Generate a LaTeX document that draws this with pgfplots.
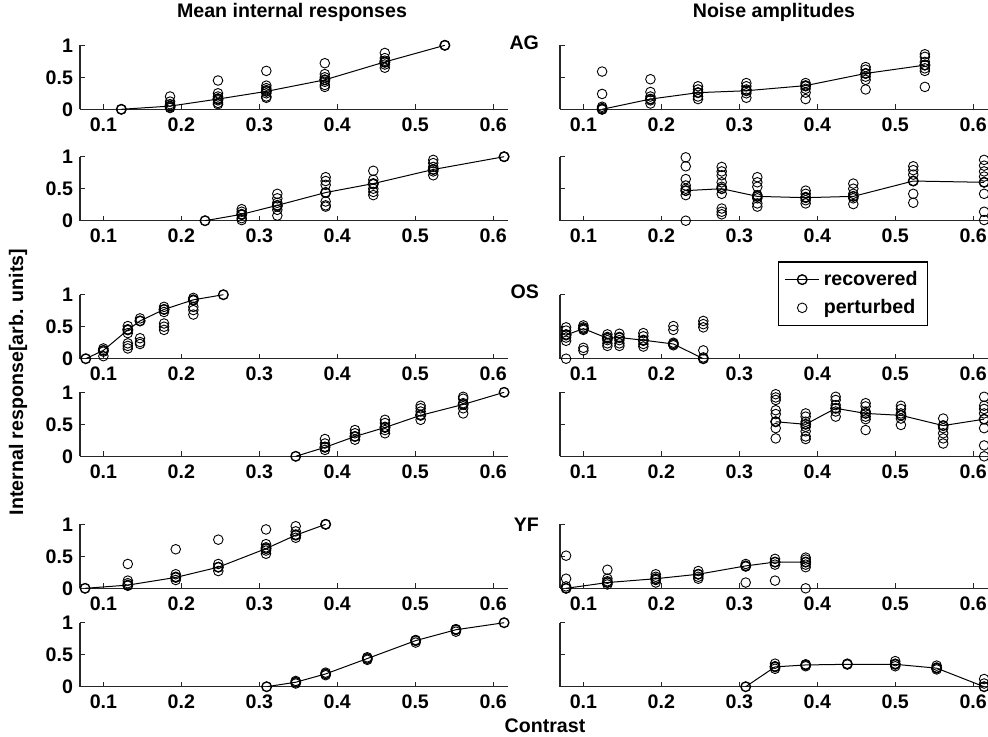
\documentclass[border=0pt]{standalone}
\usepackage{fontspec}
\setmainfont{Liberation Sans}
\usepackage{pgfplots}
\pgfplotsset{compat=1.18}

\newcommand{\lbl}{\fontsize{9.8}{11}\selectfont\bfseries}

\pgfplotsset{
  panel/.style={
    scale only axis, width=214pt, height=32pt, anchor=south west,
    xmin=0.07, xmax=0.619, ymin=0, ymax=1,
    axis lines=left, axis line style={-, black!85, line width=0.6pt},
    xtick={0.1,0.2,0.3,0.4,0.5,0.6}, ytick={0,0.5,1},
    tick align=inside, major tick length=2.5pt,
    tick style={black!85, line width=0.5pt},
    ticklabel style={font=\lbl},
    /pgf/number format/assume math mode=true,
    xticklabel style={yshift=-0.5pt},
  },
  noy/.style={yticklabels={}},
  rec/.style={black, line width=0.5pt, mark=o, mark size=2.4pt, mark options={line width=0.7pt}},
  pert/.style={black, only marks, mark=o, mark size=2.4pt, mark options={line width=0.45pt}},
}

\begin{document}
\begin{tikzpicture}
\path[use as bounding box] (0,0) rectangle (494pt,368pt);
\clip (0,0) rectangle (494pt,368pt);

% ---------------- AG ----------------
\begin{axis}[panel, at={(40pt,313.35pt)}]
\addplot[rec] coordinates {(0.123,0)(0.1855,0.05)(0.247,0.16)(0.309,0.28)(0.384,0.46)(0.461,0.74)(0.538,1)};
\addplot[pert] coordinates {(0.123,0)(0.1855,0.2)(0.1855,0.12)(0.1855,0.08)(0.1855,0.05)(0.1855,0.03)(0.1855,0.02)
 (0.247,0.45)(0.247,0.25)(0.247,0.2)(0.247,0.17)(0.247,0.14)(0.247,0.1)(0.247,0.08)
 (0.309,0.6)(0.309,0.37)(0.309,0.33)(0.309,0.3)(0.309,0.25)(0.309,0.2)(0.309,0.18)
 (0.384,0.72)(0.384,0.55)(0.384,0.5)(0.384,0.46)(0.384,0.43)(0.384,0.38)(0.384,0.35)
 (0.461,0.88)(0.461,0.8)(0.461,0.76)(0.461,0.73)(0.461,0.7)(0.461,0.65)(0.538,1)};
\end{axis}

\begin{axis}[panel, noy, at={(280pt,313.35pt)}]
\addplot[rec] coordinates {(0.124,0)(0.186,0.16)(0.247,0.26)(0.309,0.29)(0.385,0.37)(0.462,0.56)(0.538,0.69)};
\addplot[pert] coordinates {(0.124,0.59)(0.124,0.24)(0.124,0.04)(0.124,0.02)(0.124,0)
 (0.186,0.47)(0.186,0.27)(0.186,0.2)(0.186,0.14)(0.186,0.09)
 (0.247,0.36)(0.247,0.31)(0.247,0.26)(0.247,0.2)(0.247,0.16)
 (0.309,0.41)(0.309,0.36)(0.309,0.31)(0.309,0.25)(0.309,0.18)
 (0.385,0.41)(0.385,0.36)(0.385,0.32)(0.385,0.26)(0.385,0.16)
 (0.462,0.66)(0.462,0.62)(0.462,0.56)(0.462,0.51)(0.462,0.46)(0.462,0.31)
 (0.538,0.86)(0.538,0.82)(0.538,0.74)(0.538,0.69)(0.538,0.64)(0.538,0.6)(0.538,0.35)};
\end{axis}

\begin{axis}[panel, at={(40pt,257.65pt)}]
\addplot[rec] coordinates {(0.2304,0)(0.2774,0.1)(0.3231,0.24)(0.3851,0.44)(0.4462,0.58)(0.5231,0.8)(0.614,1)};
\addplot[pert] coordinates {(0.2774,0.18)(0.2774,0.14)(0.2774,0.09)(0.2774,0.04)(0.2774,0.01)
 (0.3231,0.42)(0.3231,0.35)(0.3231,0.28)(0.3231,0.22)(0.3231,0.17)(0.3231,0.08)
 (0.3851,0.68)(0.3851,0.62)(0.3851,0.56)(0.3851,0.44)(0.3851,0.3)(0.3851,0.24)(0.3851,0.22)
 (0.4462,0.78)(0.4462,0.64)(0.4462,0.57)(0.4462,0.5)(0.4462,0.45)(0.4462,0.4)
 (0.5231,0.95)(0.5231,0.9)(0.5231,0.84)(0.5231,0.77)(0.5231,0.71)(0.614,1)};
\end{axis}

\begin{axis}[panel, noy, at={(280pt,257.65pt)}]
\addplot[rec] coordinates {(0.2313,0.47)(0.2774,0.5)(0.3231,0.38)(0.3851,0.36)(0.4462,0.38)(0.5231,0.62)(0.614,0.6)};
\addplot[pert] coordinates {(0.2313,0.99)(0.2313,0.85)(0.2313,0.65)(0.2313,0.55)(0.2313,0.5)(0.2313,0.4)(0.2313,0)
 (0.2774,0.84)(0.2774,0.77)(0.2774,0.71)(0.2774,0.6)(0.2774,0.53)(0.2774,0.42)(0.2774,0.19)(0.2774,0.14)(0.2774,0.1)
 (0.3231,0.68)(0.3231,0.6)(0.3231,0.53)(0.3231,0.4)(0.3231,0.35)(0.3231,0.27)(0.3231,0.22)
 (0.3851,0.47)(0.3851,0.42)(0.3851,0.37)(0.3851,0.32)(0.3851,0.27)
 (0.4462,0.58)(0.4462,0.5)(0.4462,0.42)(0.4462,0.35)(0.4462,0.26)
 (0.5231,0.85)(0.5231,0.79)(0.5231,0.72)(0.5231,0.62)(0.5231,0.42)(0.5231,0.28)
 (0.614,0.95)(0.614,0.86)(0.614,0.77)(0.614,0.69)(0.614,0.6)(0.614,0.42)(0.614,0.14)(0.614,0.01)};
\end{axis}

% ---------------- OS ----------------
\begin{axis}[panel, at={(40pt,188.65pt)}]
\addplot[rec] coordinates {(0.0774,0)(0.1,0.13)(0.1313,0.45)(0.147,0.59)(0.1778,0.77)(0.2154,0.92)(0.2539,1)};
\addplot[pert] coordinates {(0.1,0.16)(0.1,0.11)(0.1,0.04)
 (0.1313,0.51)(0.1313,0.46)(0.1313,0.4)(0.1313,0.24)(0.1313,0.2)(0.1313,0.16)
 (0.147,0.63)(0.147,0.59)(0.147,0.32)(0.147,0.26)(0.147,0.23)
 (0.1778,0.81)(0.1778,0.77)(0.1778,0.73)(0.1778,0.55)(0.1778,0.5)(0.1778,0.45)
 (0.2154,0.95)(0.2154,0.91)(0.2154,0.81)(0.2154,0.76)(0.2154,0.69)};
\end{axis}

\begin{axis}[panel, noy, at={(280pt,188.65pt)},
  legend style={at={(0.86,1.52)}, anchor=north east, font=\lbl, draw=black, line width=0.6pt,
    inner xsep=3pt, inner ysep=2.5pt, row sep=1.5pt},
  legend cell align=left]
\addplot[rec] coordinates {(0.0778,0.37)(0.1,0.47)(0.1308,0.32)(0.1462,0.33)(0.1769,0.29)(0.2154,0.23)(0.2538,0)};
\addplot[pert] coordinates {(0.0778,0.49)(0.0778,0.44)(0.0778,0.38)(0.0778,0.33)(0.0778,0.28)(0.0778,0)
 (0.1,0.52)(0.1,0.49)(0.1,0.45)(0.1,0.17)(0.1,0.13)
 (0.1308,0.38)(0.1308,0.34)(0.1308,0.29)(0.1308,0.24)(0.1308,0.2)
 (0.1462,0.39)(0.1462,0.34)(0.1462,0.29)(0.1462,0.24)(0.1462,0.2)
 (0.1769,0.4)(0.1769,0.35)(0.1769,0.28)(0.1769,0.23)(0.1769,0.19)
 (0.2154,0.51)(0.2154,0.45)(0.2154,0.25)(0.2154,0.21)
 (0.2538,0.59)(0.2538,0.54)(0.2538,0.49)(0.2538,0.13)(0.2538,0.02)};
\legend{recovered, perturbed}
\end{axis}

\begin{axis}[panel, at={(40pt,139.85pt)}]
\addplot[rec] coordinates {(0.3467,0)(0.3842,0.14)(0.4227,0.31)(0.4612,0.45)(0.5069,0.64)(0.5615,0.81)(0.614,1)};
\addplot[pert] coordinates {(0.3842,0.27)(0.3842,0.2)(0.3842,0.15)(0.3842,0.1)
 (0.4227,0.41)(0.4227,0.36)(0.4227,0.31)(0.4227,0.26)
 (0.4612,0.57)(0.4612,0.52)(0.4612,0.46)(0.4612,0.41)(0.4612,0.36)
 (0.5069,0.79)(0.5069,0.75)(0.5069,0.7)(0.5069,0.65)(0.5069,0.57)
 (0.5615,0.93)(0.5615,0.9)(0.5615,0.83)(0.5615,0.75)(0.5615,0.67)};
\end{axis}

\begin{axis}[panel, noy, at={(280pt,139.85pt)}]
\addplot[rec] coordinates {(0.3467,0.54)(0.3851,0.5)(0.4236,0.75)(0.462,0.67)(0.5073,0.64)(0.5615,0.48)(0.614,0.58)};
\addplot[pert] coordinates {(0.3467,0.97)(0.3467,0.92)(0.3467,0.88)(0.3467,0.72)(0.3467,0.66)(0.3467,0.54)(0.3467,0.44)(0.3467,0.28)
 (0.3851,0.67)(0.3851,0.62)(0.3851,0.54)(0.3851,0.46)(0.3851,0.39)(0.3851,0.31)(0.3851,0.27)
 (0.4236,0.93)(0.4236,0.88)(0.4236,0.8)(0.4236,0.7)(0.4236,0.62)
 (0.462,0.83)(0.462,0.78)(0.462,0.7)(0.462,0.62)(0.462,0.58)(0.462,0.41)
 (0.5073,0.79)(0.5073,0.74)(0.5073,0.67)(0.5073,0.59)(0.5073,0.49)
 (0.5615,0.59)(0.5615,0.44)(0.5615,0.36)(0.5615,0.28)(0.5615,0.2)
 (0.614,0.93)(0.614,0.79)(0.614,0.74)(0.614,0.67)(0.614,0.44)(0.614,0.17)(0.614,0)};
\end{axis}

% ---------------- YF ----------------
\begin{axis}[panel, at={(40pt,73.85pt)}]
\addplot[rec] coordinates {(0.0765,0)(0.1313,0.05)(0.1928,0.17)(0.2474,0.33)(0.3086,0.62)(0.3467,0.83)(0.3851,1)};
\addplot[pert] coordinates {(0.1313,0.38)(0.1313,0.12)(0.1313,0.08)(0.1313,0.04)
 (0.1928,0.61)(0.1928,0.22)(0.1928,0.18)(0.1928,0.13)
 (0.2474,0.76)(0.2474,0.38)(0.2474,0.33)(0.2474,0.27)
 (0.3086,0.92)(0.3086,0.69)(0.3086,0.64)(0.3086,0.59)(0.3086,0.54)
 (0.3467,0.97)(0.3467,0.89)(0.3467,0.84)(0.3467,0.79)(0.3851,1)};
\end{axis}

\begin{axis}[panel, noy, at={(280pt,73.85pt)}]
\addplot[rec] coordinates {(0.0778,0)(0.1308,0.09)(0.1928,0.15)(0.2474,0.22)(0.3082,0.35)(0.3458,0.41)(0.3851,0.41)};
\addplot[pert] coordinates {(0.0778,0.51)(0.0778,0.15)(0.0778,0.03)(0.0778,0)
 (0.1308,0.29)(0.1308,0.15)(0.1308,0.11)(0.1308,0.06)
 (0.1928,0.22)(0.1928,0.18)(0.1928,0.13)(0.1928,0.09)
 (0.2474,0.27)(0.2474,0.22)(0.2474,0.18)(0.2474,0.15)
 (0.3082,0.38)(0.3082,0.34)(0.3082,0.09)
 (0.3458,0.46)(0.3458,0.41)(0.3458,0.37)(0.3458,0.12)
 (0.3851,0.48)(0.3851,0.45)(0.3851,0.41)(0.3851,0.37)(0.3851,0.33)(0.3851,0)};
\end{axis}

\begin{axis}[panel, at={(40pt,24.65pt)}]
\addplot[rec] coordinates {(0.3094,0)(0.3467,0.07)(0.3851,0.2)(0.4385,0.44)(0.5005,0.72)(0.5522,0.89)(0.614,1)};
\addplot[pert] coordinates {(0.3467,0.05)(0.3467,0.09)(0.3851,0.18)(0.3851,0.22)(0.4385,0.42)(0.4385,0.46)
 (0.5005,0.69)(0.5005,0.73)(0.5522,0.86)(0.5522,0.9)};
\end{axis}

\begin{axis}[panel, noy, at={(280pt,24.65pt)}]
\addplot[rec] coordinates {(0.3082,0)(0.3458,0.31)(0.3851,0.34)(0.4385,0.35)(0.5,0.35)(0.5531,0.29)(0.614,0)};
\addplot[pert] coordinates {(0.3458,0.28)(0.3458,0.32)(0.3458,0.36)(0.3851,0.32)(0.3851,0.35)(0.4385,0.36)
 (0.5,0.32)(0.5,0.36)(0.5,0.4)(0.5531,0.27)(0.5531,0.3)(0.5531,0.33)(0.614,0.05)(0.614,0.12)};
\end{axis}

% ---------------- labels ----------------
\node[font=\lbl] at (146pt,362pt) {Mean internal responses};
\node[font=\lbl] at (387pt,362pt) {Noise amplitudes};
\node[font=\lbl, anchor=east] at (273pt,346.5pt) {AG};
\node[font=\lbl, anchor=east] at (273pt,222pt) {OS};
\node[font=\lbl, anchor=east] at (273pt,105.5pt) {YF};
\node[font=\lbl, rotate=90] at (9pt,177pt) {Internal response[arb. units]};
\node[font=\lbl] at (272.5pt,5pt) {Contrast};
\end{tikzpicture}
\end{document}
